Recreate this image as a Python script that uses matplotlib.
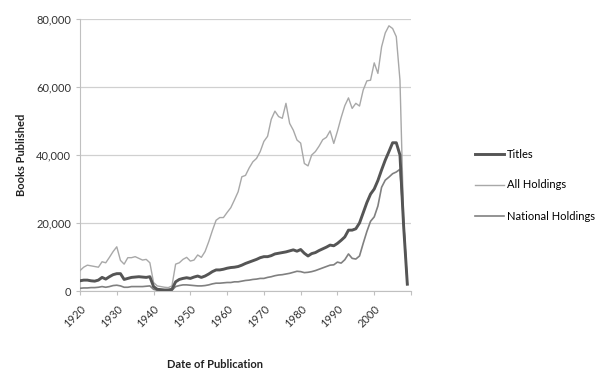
import numpy as np
import matplotlib
import matplotlib.pyplot as plt
from matplotlib.ticker import FuncFormatter

matplotlib.rc("font", family=["Lato", "DejaVu Sans"], size=8)

years = np.arange(1920, 2010)

titles = [
    3000, 3200, 3200, 3000, 2900, 3200, 4000, 3500, 4200, 4800,
    5100, 5100, 3400, 3700, 4000, 4100, 4200, 4100, 4000, 4200,
    1300, 500, 400, 300, 300, 500, 2700, 3400, 3700, 3900,
    3700, 4100, 4400, 4000, 4400, 5000, 5700, 6200, 6200, 6400,
    6700, 6900, 7000, 7200, 7600, 8100, 8500, 8900, 9300, 9800,
    10100, 10100, 10400, 10900, 11100, 11300, 11500, 11800, 12100, 11700,
    12200, 11100, 10300, 11000, 11300, 11900, 12400, 12900, 13500, 13300,
    14000, 14900, 15900, 17900, 17900, 18300, 20000, 23000, 26000, 28500,
    30000, 32500, 35600, 38500, 41000, 43600, 43600, 40000, 19000, 2000,
]

all_holdings = [
    6000, 7000, 7600, 7400, 7200, 7000, 8600, 8300, 9900, 11600,
    13000, 9000, 7900, 9800, 9800, 10100, 9600, 9100, 9300, 8300,
    2500, 1500, 1300, 1100, 1000, 1500, 7900, 8300, 9300, 9900,
    8800, 9100, 10600, 9900, 11600, 14500, 17800, 20800, 21600, 21600,
    23100, 24500, 26800, 29200, 33600, 34000, 36200, 38000, 39000, 41000,
    44000, 45500, 50500, 52900, 51300, 50800, 55200, 49300, 47300, 44400,
    43500, 37500, 36800, 40000, 41000, 42600, 44500, 45200, 47100, 43400,
    47000, 51000, 54500, 56800, 53700, 55200, 54400, 59100, 61800, 62000,
    67100, 64000, 71800, 75900, 78000, 77200, 74800, 62000, 21000, 2000,
]

national = [
    800, 900, 900, 1000, 1000, 1100, 1300, 1100, 1300, 1600,
    1700, 1500, 1100, 1100, 1300, 1300, 1300, 1300, 1400, 1500,
    500, 200, 100, 100, 100, 200, 1300, 1600, 1800, 1800,
    1700, 1600, 1500, 1500, 1600, 1800, 2100, 2300, 2300, 2400,
    2500, 2500, 2700, 2700, 2900, 3100, 3200, 3400, 3500, 3700,
    3700, 4000, 4200, 4500, 4700, 4800, 5000, 5200, 5500, 5800,
    5700, 5400, 5500, 5700, 6000, 6400, 6800, 7200, 7600, 7700,
    8500, 8200, 9200, 10900, 9600, 9400, 10300, 14000, 17500, 20500,
    21800, 25000, 30500, 32600, 33500, 34500, 35000, 35800, 20000, 2000,
]

fig = plt.figure(figsize=(6, 3.83), dpi=100)
ax = fig.add_axes([80 / 600, 1 - 291 / 383, 331 / 600, 272 / 383])

ax.plot(years, titles, color="#555555", lw=2.1, label="Titles", zorder=4)
ax.plot(years, all_holdings, color="#a8a8a8", lw=1.0, label="All Holdings", zorder=3)
ax.plot(years, national, color="#808080", lw=1.2, label="National Holdings", zorder=3)

ax.set_xlim(1920, 2010)
ax.set_ylim(0, 80000)
ax.set_yticks(range(0, 80001, 20000))
ax.yaxis.set_major_formatter(FuncFormatter(lambda v, p: f"{int(v):,}"))
ax.set_xticks(range(1920, 2011, 10))
ax.set_xticklabels([str(y) for y in range(1920, 2001, 10)] + [""],
                   rotation=45, ha="right", rotation_mode="anchor")

ax.grid(axis="y", color="#d0d0d0", lw=0.9)
ax.set_axisbelow(True)
for s in ["top", "right"]:
    ax.spines[s].set_visible(False)
for s in ["left", "bottom"]:
    ax.spines[s].set_color("#c0c0c0")
ax.tick_params(axis="both", colors="#c0c0c0", labelcolor="#333333", length=3, width=0.8)
ax.tick_params(axis="x", pad=6)

fig.text(22 / 600, 1 - 155 / 383, "Books Published", rotation=90, ha="center",
         va="center", fontweight="bold", fontsize=8, color="#222222")
fig.text(215 / 600, 1 - 365 / 383, "Date of Publication", ha="center",
         va="center", fontweight="bold", fontsize=8, color="#222222")

ax.legend(loc="center left", bbox_to_anchor=(465 / 600, 1 - 185 / 383),
          bbox_transform=fig.transFigure, frameon=False, handlelength=2.6,
          handletextpad=0.3, labelspacing=1.8, fontsize=8)

fig.savefig("out.png", dpi=100)
